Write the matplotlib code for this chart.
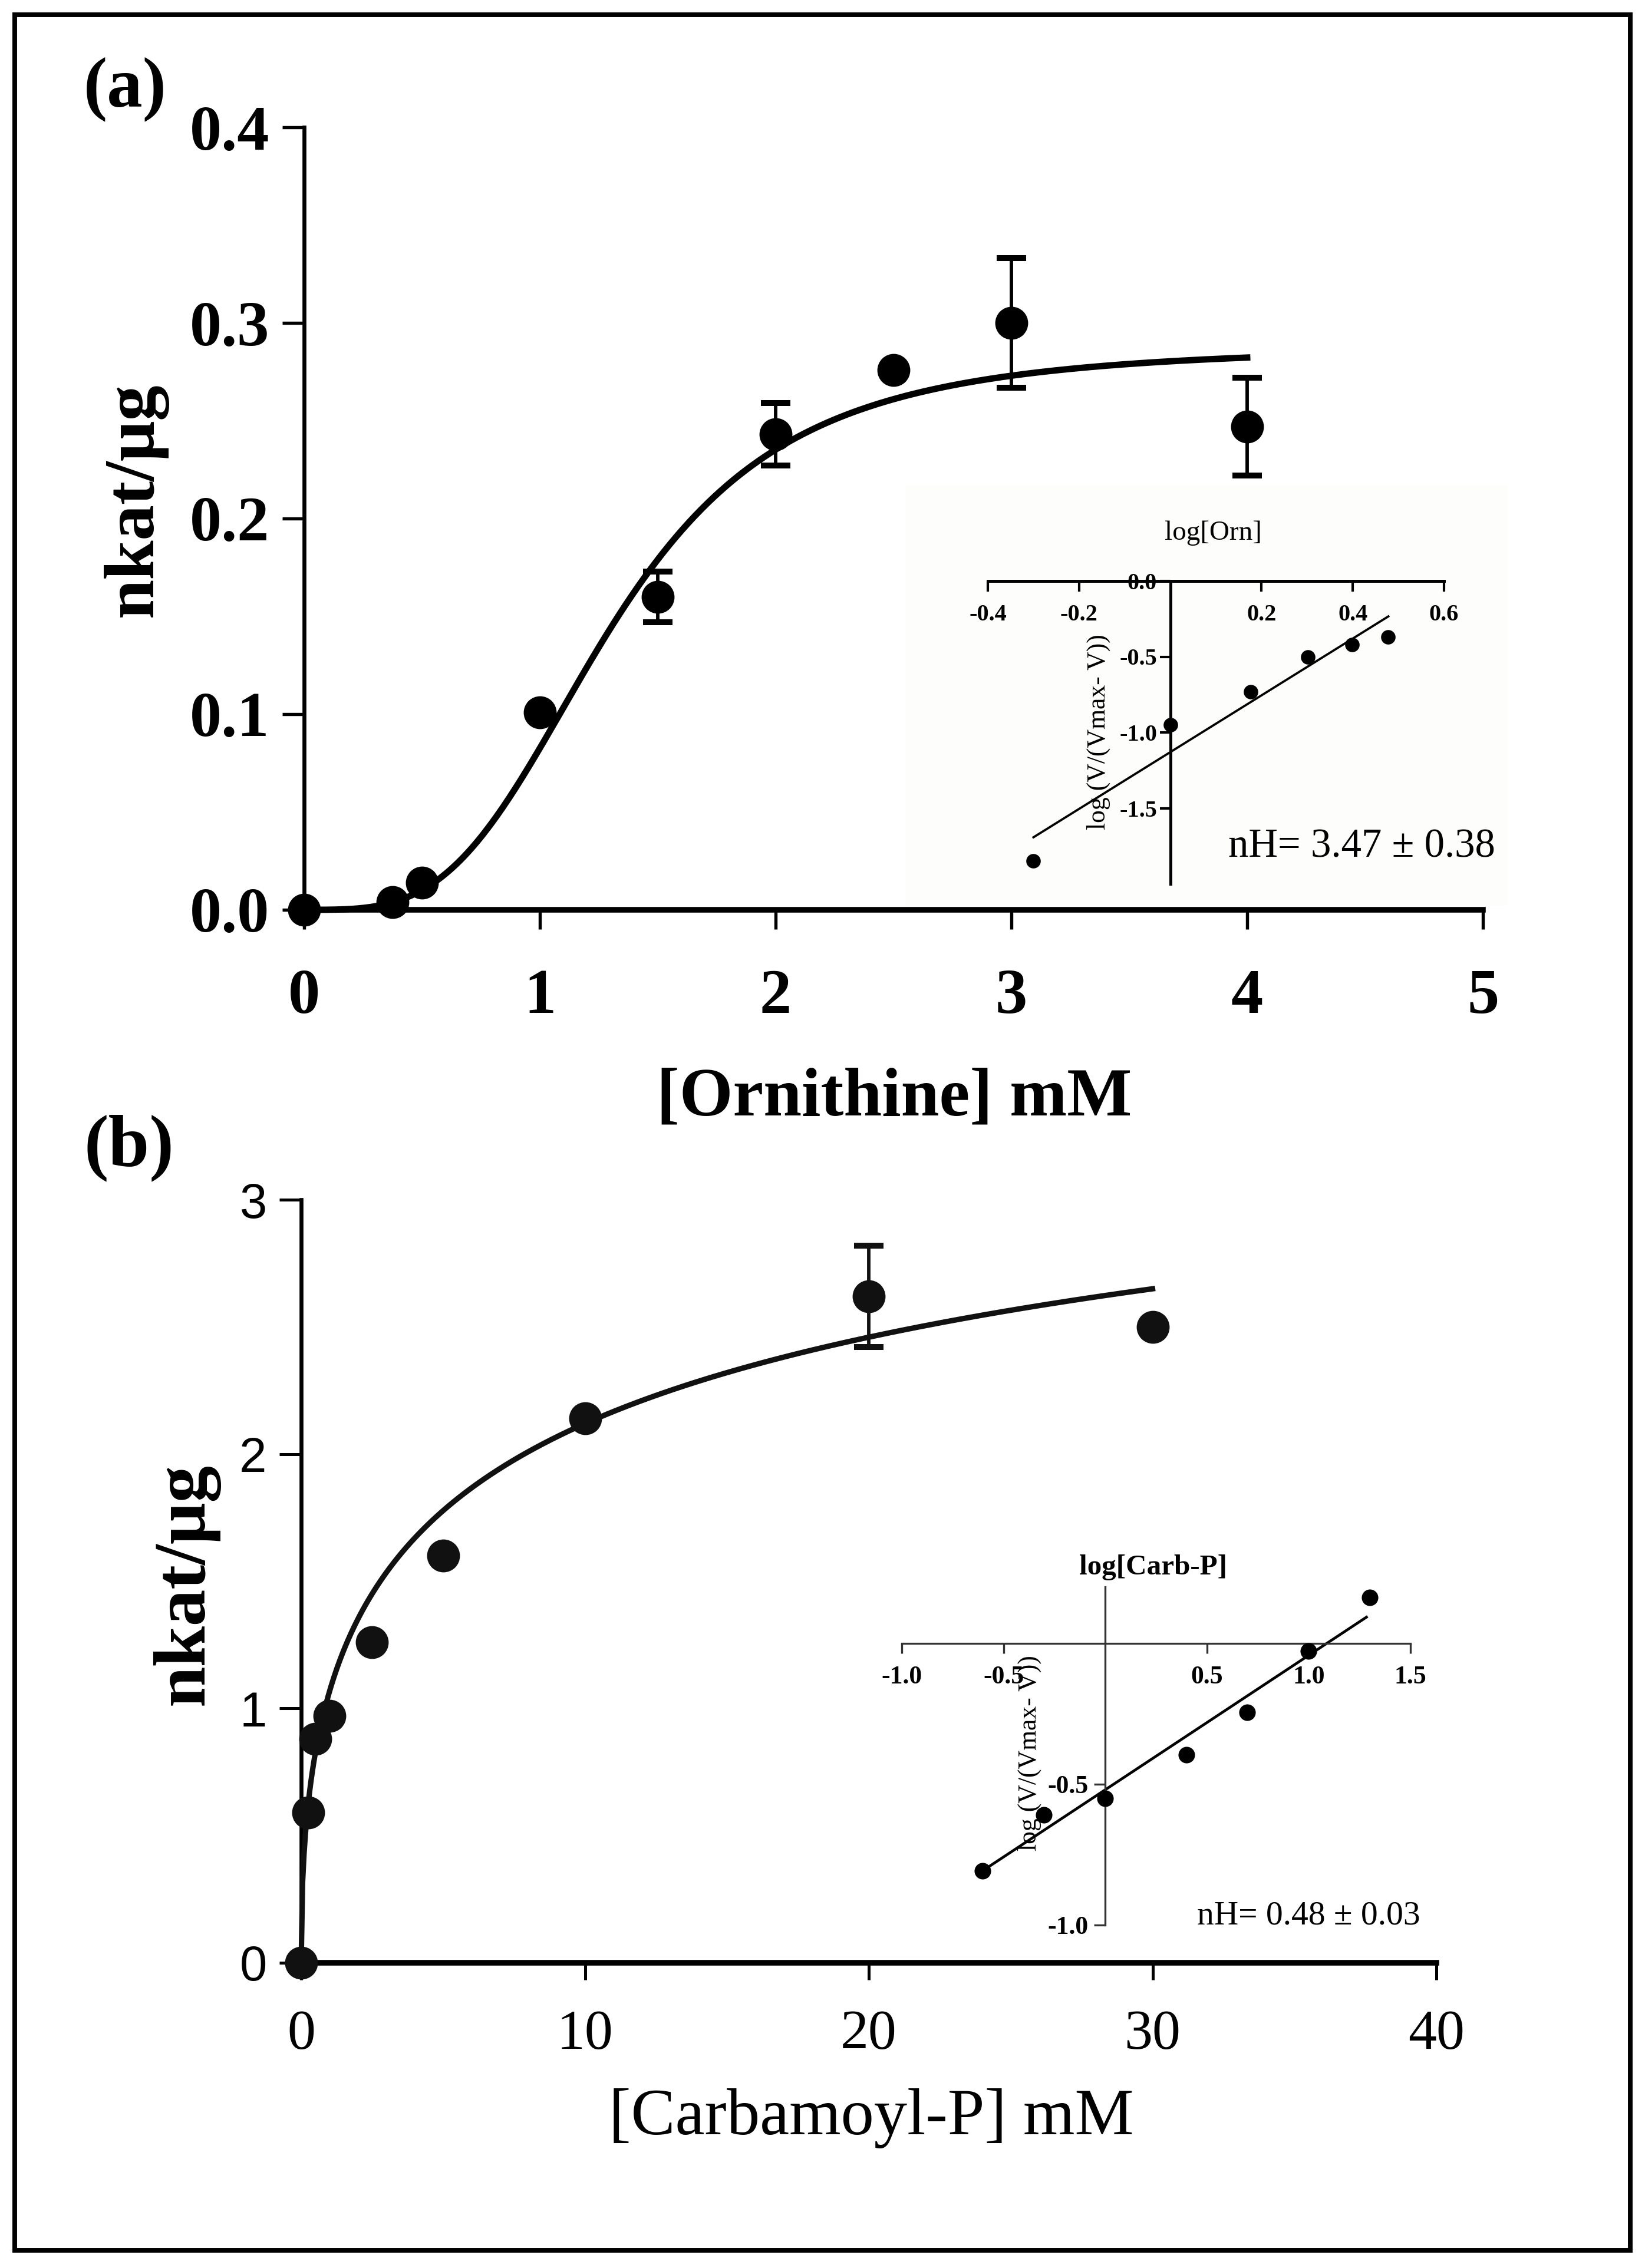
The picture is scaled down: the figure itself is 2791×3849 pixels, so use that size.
import numpy as np
import matplotlib
matplotlib.use("Agg")
import matplotlib.pyplot as plt
from matplotlib.patches import Rectangle


# =========================
# 1. Data
# =========================
# (a) ornithine saturation
orn_mm = [0.0, 0.375, 0.5, 1.0, 1.5, 2.0, 2.5, 3.0, 4.0]
orn_rate = [0.0, 0.004, 0.014, 0.101, 0.160, 0.243, 0.276, 0.300, 0.247]
orn_err = [0.0, 0.0, 0.0, 0.0, 0.013, 0.016, 0.0, 0.033, 0.025]
# Hill fit shown in (a)
ORN_VMAX = 0.288
ORN_K = 1.3
ORN_NH = 3.47
ORN_FIT_END = 4.0

# (b) carbamoyl-P saturation
cp_mm = [0.0, 0.25, 0.5, 1.0, 2.5, 5.0, 10.0, 20.0, 30.0]
cp_rate = [0.0, 0.59, 0.88, 0.97, 1.26, 1.60, 2.14, 2.62, 2.50]
cp_err = [0.0, 0.0, 0.0, 0.0, 0.0, 0.0, 0.0, 0.20, 0.0]
# Hill fit shown in (b)
CP_VMAX = 4.14
CP_KN = 2.878  # K**nH
CP_NH = 0.48
CP_FIT_END = 30.0

# Hill plot insets
hill_a_x = [-0.301, 0.0, 0.176, 0.301, 0.398, 0.477]
hill_a_y = [-1.85, -0.95, -0.73, -0.50, -0.42, -0.37]
hill_a_line_x = [-0.30, 0.478]
HILL_A_SLOPE = 1.875
HILL_A_ICPT = -1.130

hill_b_x = [-0.602, -0.301, 0.0, 0.398, 0.699, 1.0, 1.301]
hill_b_y = [-0.807, -0.609, -0.551, -0.396, -0.246, -0.028, 0.162]
hill_b_line_x = [-0.602, 1.284]
HILL_B_SLOPE = 0.477
HILL_B_ICPT = -0.520

orn_xticks = [0, 1, 2, 3, 4, 5]
orn_yticks = [0.0, 0.1, 0.2, 0.3, 0.4]
cp_xticks = [0, 10, 20, 30, 40]
cp_yticks = [0, 1, 2, 3]
ha_xticks = [-0.4, -0.2, 0.2, 0.4, 0.6]
ha_yticks = [-1.5, -1.0, -0.5, 0.0]
hb_xticks = [-1.0, -0.5, 0.5, 1.0, 1.5]
hb_yticks = [-1.0, -0.5]


# =========================
# 2. Figure setup (pixel layout helpers)
# =========================
W, H, DPI = 2791, 3849, 300
plt.rcParams["font.family"] = ["Liberation Serif", "DejaVu Serif"]

fig = plt.figure(figsize=(W / DPI, H / DPI), dpi=DPI)
fig.patch.set_facecolor("white")


def box(left, top, right, bottom):
    return [left / W, 1 - bottom / H, (right - left) / W, (bottom - top) / H]


def fx(px):
    return px / W


def fy(py):
    return 1 - py / H


# outer frame
fig.patches.append(Rectangle((fx(25), fy(3819)), fx(2766) - fx(25), fy(25) - fy(3819),
                             transform=fig.transFigure, fill=False,
                             edgecolor="black", linewidth=1.9, zorder=5))
# faint backdrop of inset (a), kept behind all axes
fig.patches.append(Rectangle((fx(1537), fy(1537)), fx(2557) - fx(1537), fy(824) - fy(1537),
                             transform=fig.transFigure, facecolor="#fdfdfb",
                             edgecolor="none", zorder=-1))


def style_main(ax, lw_left, lw_bottom):
    ax.set_facecolor("none")
    for s in ("top", "right"):
        ax.spines[s].set_visible(False)
    ax.spines["left"].set_linewidth(lw_left)
    ax.spines["bottom"].set_linewidth(lw_bottom)


# =========================
# 3. Panel (a)
# =========================
ax1 = fig.add_axes(box(516, 216, 2516, 1544))
style_main(ax1, 1.6, 2.3)
xf = np.linspace(0, ORN_FIT_END, 300)
yf = ORN_VMAX * xf ** ORN_NH / (ORN_K ** ORN_NH + xf ** ORN_NH)
ax1.plot(xf, yf, color="black", linewidth=2.6, clip_on=False, zorder=3)
ax1.errorbar(orn_mm, orn_rate, yerr=orn_err, fmt="o", color="black",
             markersize=12.4, elinewidth=1.4, capsize=6, capthick=2.4,
             clip_on=False, zorder=4)
ax1.set_xlim(0, 5)
ax1.set_ylim(0, 0.4)
ax1.set_xticks(orn_xticks)
ax1.set_yticks(orn_yticks)
ax1.set_yticklabels([f"{v:.1f}" for v in orn_yticks])
ax1.tick_params(axis="x", direction="out", length=8, width=1.3, pad=16, labelsize=26)
ax1.tick_params(axis="y", direction="out", length=9, width=1.3, pad=5, labelsize=26)
for lab in ax1.get_xticklabels() + ax1.get_yticklabels():
    lab.set_fontweight("bold")

fig.text(fx(212), fy(152), "(a)", fontsize=29, fontweight="bold", ha="center", va="center")
fig.text(fx(229), fy(848), "nkat/μg", fontsize=29, fontweight="bold",
         rotation=90, ha="center", va="center")
fig.text(fx(1517), fy(1864), "[Ornithine] mM", fontsize=28, fontweight="bold",
         ha="center", va="center")


# =========================
# 4. Panel (b)
# =========================
ax2 = fig.add_axes(box(511, 2036, 2437, 3331))
style_main(ax2, 1.6, 2.3)
xf2 = np.linspace(0, CP_FIT_END, 600)
yf2 = CP_VMAX * xf2 ** CP_NH / (CP_KN + xf2 ** CP_NH)
ax2.plot(xf2, yf2, color="#111111", linewidth=2.2, clip_on=False, zorder=3)
ax2.errorbar(cp_mm, cp_rate, yerr=cp_err, fmt="o", color="#111111",
             markersize=12.4, elinewidth=1.4, capsize=6, capthick=2.4,
             clip_on=False, zorder=4)
ax2.set_xlim(0, 40)
ax2.set_ylim(0, 3)
ax2.set_xticks(cp_xticks)
ax2.set_yticks(cp_yticks)
ax2.tick_params(axis="x", direction="out", length=7, width=1.2, pad=12, labelsize=23)
ax2.tick_params(axis="y", direction="out", length=9, width=1.2, pad=5, labelsize=20)
for lab in ax2.get_yticklabels():
    lab.set_family("Liberation Sans")

fig.text(fx(219), fy(1948), "(b)", fontsize=30, fontweight="bold", ha="center", va="center")
fig.text(fx(315), fy(2688), "nkat/μg", fontsize=30, fontweight="bold",
         rotation=90, ha="center", va="center")
fig.text(fx(1478), fy(3595), "[Carbamoyl-P] mM", fontsize=27,
         ha="center", va="center")


# =========================
# 5. Hill plot insets
# =========================
def style_inset(ax, lw, color):
    ax.set_facecolor("none")
    for s in ("top", "right"):
        ax.spines[s].set_visible(False)
    for s in ("left", "bottom"):
        ax.spines[s].set_position(("data", 0))
        ax.spines[s].set_linewidth(lw)
        ax.spines[s].set_color(color)
    ax.tick_params(colors=color, labelcolor="black")


# inset (a)
ia = fig.add_axes(box(1676, 986, 2450, 1500))
style_inset(ia, 1.2, "black")
ia.scatter(hill_a_x, hill_a_y, s=24, color="black", zorder=4, clip_on=False)
lx = np.array(hill_a_line_x)
ia.plot(lx, HILL_A_ICPT + HILL_A_SLOPE * lx, color="black", linewidth=0.9, clip_on=False)
ia.set_xlim(-0.4, 0.6)
ia.set_ylim(-2.0, 0.0)
ia.set_xticks(ha_xticks)
ia.set_yticks(ha_yticks)
ia.set_xticklabels([f"{v:.1f}" for v in ha_xticks])
ia.set_yticklabels([f"{v:.1f}" for v in ha_yticks])
ia.tick_params(axis="x", direction="out", length=4.4, width=1.0, pad=5, labelsize=9.7)
ia.tick_params(axis="y", direction="out", length=4.4, width=1.0, pad=1, labelsize=9.7)
for lab in ia.get_xticklabels() + ia.get_yticklabels():
    lab.set_fontweight("bold")
fig.text(fx(2058), fy(905), "log[Orn]", fontsize=11.3, ha="center", va="center")
fig.text(fx(1864), fy(1242), "log (V/(Vmax- V))", fontsize=10.5,
         rotation=90, ha="center", va="center")
fig.text(fx(2084), fy(1438), "nH= 3.47 ± 0.38", fontsize=16.5, ha="left", va="center")

# inset (b)
ib = fig.add_axes(box(1530, 2693, 2393, 3267))
style_inset(ib, 0.8, "#333333")
ib.scatter(hill_b_x, hill_b_y, s=33, color="black", zorder=4, clip_on=False)
lx = np.array(hill_b_line_x)
ib.plot(lx, HILL_B_ICPT + HILL_B_SLOPE * lx, color="black", linewidth=1.1, clip_on=False)
ib.set_xlim(-1.0, 1.5)
ib.set_ylim(-1.0, 0.2)
ib.set_xticks(hb_xticks)
ib.set_yticks(hb_yticks)
ib.set_xticklabels([f"{v:.1f}" for v in hb_xticks])
ib.set_yticklabels([f"{v:.1f}" for v in hb_yticks])
ib.tick_params(axis="x", direction="out", length=4, width=0.8, pad=5, labelsize=10.5)
ib.tick_params(axis="y", direction="out", length=4.5, width=0.8, pad=2.4, labelsize=10.5)
for lab in ib.get_xticklabels() + ib.get_yticklabels():
    lab.set_fontweight("bold")
fig.text(fx(1957), fy(2660), "log[Carb-P]", fontsize=11.8, fontweight="bold",
         ha="center", va="center")
fig.text(fx(1747), fy(2975), "log (V/(Vmax- V))", fontsize=10.5,
         rotation=90, ha="center", va="center")
fig.text(fx(2031), fy(3251), "nH= 0.48 ± 0.03", fontsize=13.8, ha="left", va="center")


# =========================
# 6. Save
# =========================
fig.savefig("out.png", dpi=DPI)
